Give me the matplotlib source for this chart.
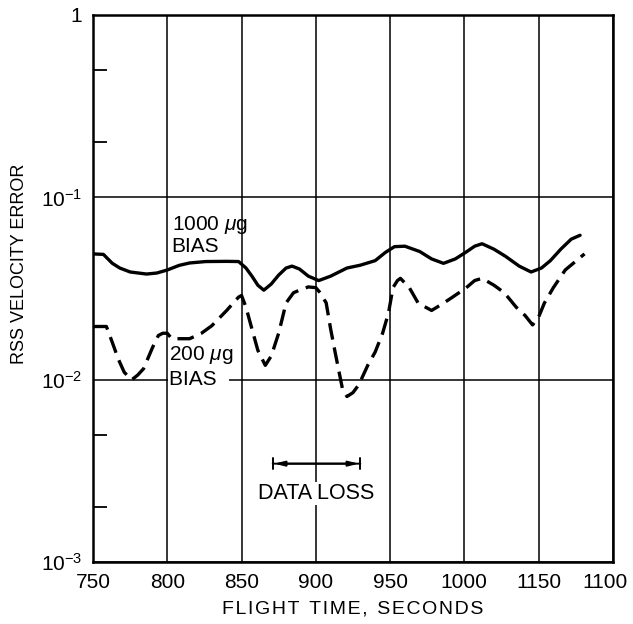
import numpy as np
import matplotlib.pyplot as plt
from matplotlib.ticker import FixedLocator, NullFormatter
from matplotlib.transforms import offset_copy

plt.rcParams['font.family'] = ['Liberation Sans', 'DejaVu Sans']
plt.rcParams['mathtext.fontset'] = 'custom'
plt.rcParams['mathtext.rm'] = 'Liberation Sans'
plt.rcParams['mathtext.it'] = 'Liberation Sans:italic'

# 1000 ug bias (solid)
x1 = [750, 757, 760, 763, 768, 775, 786, 793, 800, 808, 815, 826, 840, 848, 853,
      857, 861, 865, 870, 875, 880, 884, 889, 895, 902, 910, 921, 930, 940, 947,
      953, 960, 970, 978, 986, 994, 1001, 1007, 1012, 1020, 1028, 1037, 1045, 1052,
      1058, 1065, 1072, 1078]
y1 = [0.049, 0.0487, 0.046, 0.0435, 0.041, 0.039, 0.038, 0.0385, 0.040, 0.0424,
      0.0437, 0.0445, 0.0446, 0.0445, 0.041, 0.037, 0.033, 0.031, 0.0335, 0.0375,
      0.041, 0.042, 0.0405, 0.037, 0.035, 0.037, 0.041, 0.0425, 0.045, 0.050,
      0.0537, 0.054, 0.0505, 0.046, 0.0435, 0.046, 0.050, 0.054, 0.0557, 0.052,
      0.0474, 0.042, 0.039, 0.041, 0.045, 0.052, 0.059, 0.062]

# 200 ug bias (dashed)
x2 = [750, 759, 763, 767, 771, 776, 780, 784, 790, 794, 797, 800, 803, 815, 823,
      830, 840, 848, 850, 853, 857, 861, 866, 870, 875, 880, 885, 889, 895, 900,
      903, 907, 910, 913, 918, 921, 925, 929, 935, 940, 945, 949, 952, 955, 957,
      963, 969, 978, 985, 991, 1001, 1007, 1012, 1020, 1027, 1035, 1041, 1046,
      1050, 1054, 1060, 1068, 1081]
y2 = [0.0196, 0.0196, 0.016, 0.013, 0.011, 0.010, 0.0106, 0.0115, 0.015, 0.0175,
      0.018, 0.018, 0.0168, 0.0168, 0.018, 0.0198, 0.024, 0.0284, 0.029, 0.025,
      0.019, 0.0145, 0.012, 0.0135, 0.018, 0.0264, 0.030, 0.031, 0.0323, 0.032,
      0.030, 0.0264, 0.019, 0.0142, 0.0089, 0.0081, 0.0085, 0.0094, 0.012, 0.0142,
      0.018, 0.0233, 0.032, 0.035, 0.036, 0.032, 0.0263, 0.024, 0.026, 0.028,
      0.0318, 0.035, 0.036, 0.033, 0.030, 0.025, 0.0225, 0.020, 0.022, 0.0264,
      0.032, 0.040, 0.049]

xticks = [750, 800, 850, 900, 950, 1000, 1050, 1100]
xlabels = ['750', '800', '850', '900', '950', '1000', '1150', '1100']
yticks = [1e-3, 1e-2, 1e-1, 1]
ylabels = ['$10^{-3}$', '$10^{-2}$', '$10^{-1}$', '1']
loss_start, loss_end = 871, 930

fig = plt.figure(figsize=(6.33, 6.24), dpi=100)
ax = fig.add_axes([0.147, 0.099, 0.821, 0.877])

ax.plot(x1, y1, color='black', lw=2.4, solid_capstyle='round', solid_joinstyle='round', zorder=3)
ax.plot(x2, y2, color='black', lw=2.4, dashes=(5, 2.4), dash_joinstyle='round', zorder=3)

ax.set_yscale('log')
ax.set_xlim(750, 1100)
ax.set_ylim(1e-3, 1)
ax.set_xticks(xticks)
ax.set_xticklabels(xlabels)
ax.set_yticks(yticks)
ax.set_yticklabels(ylabels)
ax.yaxis.set_minor_locator(FixedLocator([0.002, 0.005, 0.2, 0.5]))
ax.yaxis.set_minor_formatter(NullFormatter())
ax.tick_params(axis='both', which='major', length=0, labelsize=15, pad=8)
ax.tick_params(axis='y', which='minor', direction='in', length=10, width=1.3)
ax.grid(True, which='major', color='black', lw=1.1)
for s in ax.spines.values():
    s.set_linewidth(1.8)

# pull the last x label in so it stays inside the figure
last = ax.get_xticklabels()[-1]
last.set_transform(offset_copy(last.get_transform(), fig=fig, x=-8, y=0, units='dots'))

ax.text(803, 0.071, '1000 $\\mu$g', fontsize=15, va='center', ha='left')
ax.text(803, 0.0535, 'BIAS', fontsize=15, va='center', ha='left')
ax.text(801, 0.0136, '200 $\\mu$g', fontsize=15, va='center', ha='left', zorder=4)
ax.text(801, 0.0100, 'BIAS  ', fontsize=15, va='center', ha='left', zorder=4,
        bbox=dict(facecolor='white', edgecolor='none', pad=0.5))

ax.annotate('', xy=(loss_start, 0.00347), xytext=(loss_end, 0.00347),
            arrowprops=dict(arrowstyle='|-|, widthA=0.4, widthB=0.4', lw=1.4, color='black',
                            shrinkA=0, shrinkB=0))
ax.annotate('', xy=(loss_start + 1, 0.00347), xytext=(loss_end - 1, 0.00347),
            arrowprops=dict(arrowstyle='<|-|>, head_length=0.6, head_width=0.15', lw=1.4,
                            color='black', shrinkA=0, shrinkB=0))
ax.text(900, 0.00238, 'DATA LOSS', fontsize=15.5, ha='center', va='center', zorder=4,
        bbox=dict(facecolor='white', edgecolor='none', pad=1))

ax.set_xlabel('F L I G H T   T I M E ,   S E C O N D S'.replace('   ', '\u2002').replace(' ', '\u200a'),
              fontsize=14, labelpad=6)
ax.set_ylabel('RSS VELOCITY ERROR', fontsize=13)
ax.yaxis.set_label_coords(-0.125, 0.545)

plt.savefig('out.png', dpi=100)
